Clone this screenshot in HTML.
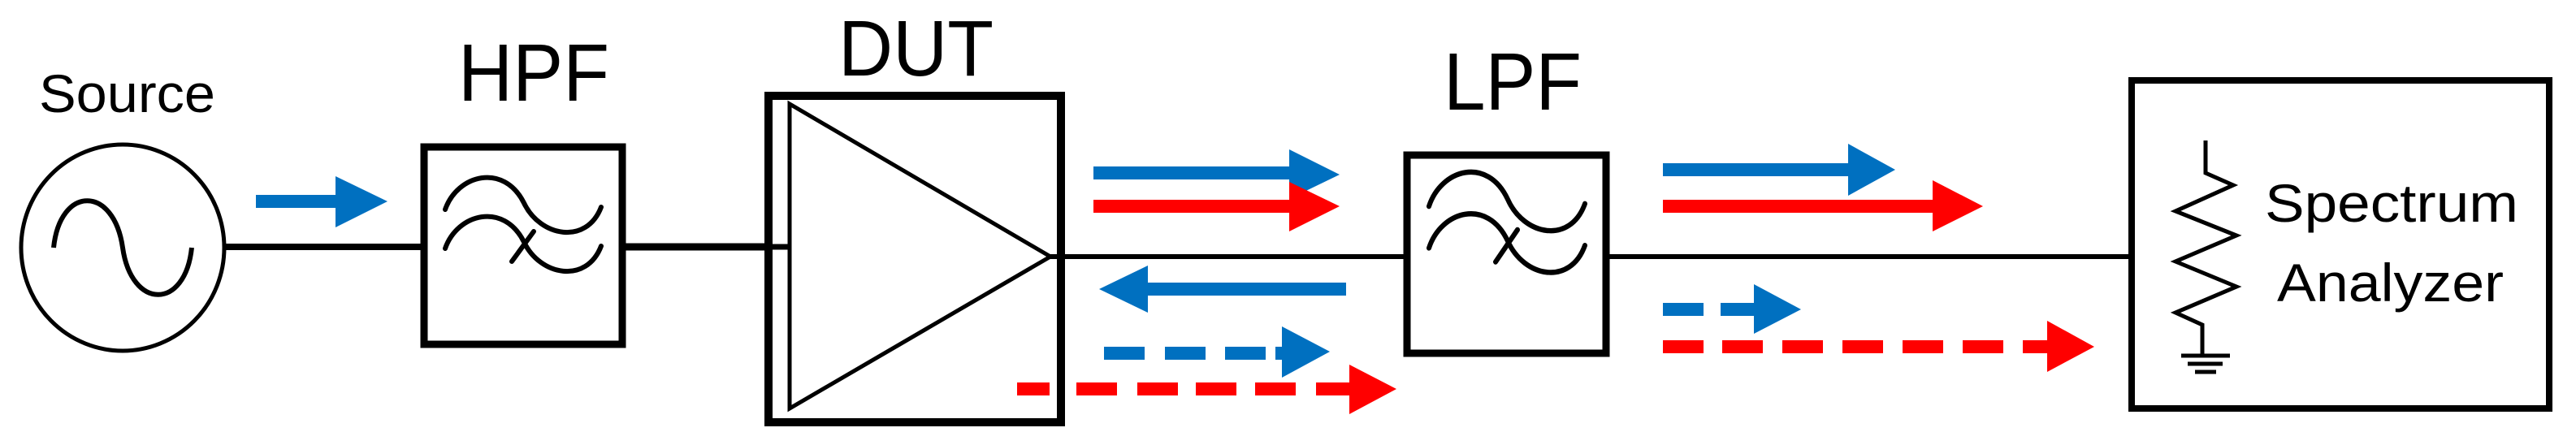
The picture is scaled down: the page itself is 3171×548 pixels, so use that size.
<!DOCTYPE html>
<html><head><meta charset="utf-8"><style>html,body{margin:0;padding:0;background:#fff}svg{display:block}</style></head>
<body>
<svg width="3171" height="548" viewBox="0 0 3171 548" xmlns="http://www.w3.org/2000/svg">
<defs>
<g id="flt" fill="none" stroke="#000" stroke-width="6" stroke-linecap="round">
<path d="M548,258 C563,215 620,200 645,250 C665,292 722,302 740,255"/>
<path d="M548,306 C563,263 620,248 645,298 C665,340 722,350 740,303"/>
<path d="M630,322 L657,285"/>
</g>
</defs>
<!-- Source -->
<text x="48" y="138" font-family="Liberation Sans, sans-serif" font-size="66" textLength="217" lengthAdjust="spacingAndGlyphs">Source</text>
<ellipse cx="151" cy="305" rx="125" ry="127" fill="none" stroke="#000" stroke-width="5"/>
<path d="M66,305 C74,228 140,228 151,305 C162,382 228,382 236,305" fill="none" stroke="#000" stroke-width="6"/>
<line x1="276" y1="304" x2="520" y2="304" stroke="#000" stroke-width="8"/>
<!-- blue arrow -->
<rect x="315" y="240" width="120" height="16" fill="#0070c0"/>
<polygon points="413,217 477,248 413,280" fill="#0070c0"/>
<!-- HPF -->
<text x="564" y="124" font-family="Liberation Sans, sans-serif" font-size="100" textLength="186" lengthAdjust="spacingAndGlyphs">HPF</text>
<rect x="522" y="181" width="244" height="243" fill="#fff" stroke="#000" stroke-width="9"/>
<use href="#flt"/>
<line x1="766" y1="304" x2="945" y2="304" stroke="#000" stroke-width="9"/>
<!-- DUT -->
<text x="1032" y="93" font-family="Liberation Sans, sans-serif" font-size="97" textLength="191" lengthAdjust="spacingAndGlyphs">DUT</text>
<rect x="946" y="118" width="360" height="402" fill="#fff" stroke="#000" stroke-width="10"/>
<polygon points="972,128 1293,316 972,503" fill="none" stroke="#000" stroke-width="5"/>
<line x1="946" y1="304" x2="972" y2="304" stroke="#000" stroke-width="7"/>
<line x1="1293" y1="316" x2="1730" y2="316" stroke="#000" stroke-width="6"/>
<!-- arrows mid -->
<rect x="1346" y="205" width="245" height="16" fill="#0070c0"/>
<polygon points="1587,184 1649,215 1587,245" fill="#0070c0"/>
<rect x="1346" y="246" width="245" height="16" fill="#ff0000"/>
<polygon points="1587,224 1649,254 1587,285" fill="#ff0000"/>
<rect x="1413" y="348" width="244" height="16" fill="#0070c0"/>
<polygon points="1413,327 1353,356 1413,385" fill="#0070c0"/>
<g fill="#0070c0"><rect x="1359" y="427" width="50" height="16"/><rect x="1434" y="427" width="50" height="16"/><rect x="1508" y="427" width="50" height="16"/><rect x="1570" y="427" width="15" height="16"/><polygon points="1578,402 1637,433 1578,465"/></g>
<g fill="#ff0000"><rect x="1252" y="471" width="40" height="16"/><rect x="1325" y="471" width="50" height="16"/><rect x="1400" y="471" width="50" height="16"/><rect x="1472" y="471" width="50" height="16"/><rect x="1545" y="471" width="50" height="16"/><rect x="1620" y="471" width="45" height="16"/><polygon points="1661,449 1719,479 1661,510"/></g>
<!-- LPF -->
<text x="1777" y="135" font-family="Liberation Sans, sans-serif" font-size="100" textLength="170" lengthAdjust="spacingAndGlyphs">LPF</text>
<rect x="1732" y="191" width="245" height="244" fill="#fff" stroke="#000" stroke-width="9"/>
<use href="#flt" transform="translate(1211,-22) scale(1,1.07)"/>
<line x1="1977" y1="316" x2="2622" y2="316" stroke="#000" stroke-width="6"/>
<!-- arrows right -->
<rect x="2047" y="201" width="232" height="16" fill="#0070c0"/>
<polygon points="2275,177 2333,209 2275,241" fill="#0070c0"/>
<rect x="2047" y="246" width="336" height="16" fill="#ff0000"/>
<polygon points="2379,222 2441,254 2379,285" fill="#ff0000"/>
<g fill="#0070c0"><rect x="2047" y="373" width="50" height="16"/><rect x="2118" y="373" width="45" height="16"/><polygon points="2159,350 2217,381 2159,411"/></g>
<g fill="#ff0000"><rect x="2047" y="419" width="50" height="16"/><rect x="2120" y="419" width="50" height="16"/><rect x="2194" y="419" width="50" height="16"/><rect x="2268" y="419" width="50" height="16"/><rect x="2342" y="419" width="50" height="16"/><rect x="2416" y="419" width="50" height="16"/><rect x="2490" y="419" width="35" height="16"/><polygon points="2520,395 2578,427 2520,458"/></g>
<!-- Spectrum analyzer -->
<rect x="2624" y="99" width="514" height="404" fill="#fff" stroke="#000" stroke-width="8"/>
<polyline points="2715,173 2715,213 2749,228 2678,260 2753,290 2678,322 2753,353 2678,385 2711,400 2711,437" fill="none" stroke="#000" stroke-width="5"/>
<line x1="2685" y1="438" x2="2745" y2="438" stroke="#000" stroke-width="5"/>
<line x1="2693" y1="448" x2="2736" y2="448" stroke="#000" stroke-width="5"/>
<line x1="2702" y1="458" x2="2728" y2="458" stroke="#000" stroke-width="5"/>
<text x="2788" y="273" font-family="Liberation Sans, sans-serif" font-size="66" textLength="312" lengthAdjust="spacingAndGlyphs">Spectrum</text>
<text x="2803" y="371" font-family="Liberation Sans, sans-serif" font-size="66" textLength="279" lengthAdjust="spacingAndGlyphs">Analyzer</text>
</svg>
</body></html>
